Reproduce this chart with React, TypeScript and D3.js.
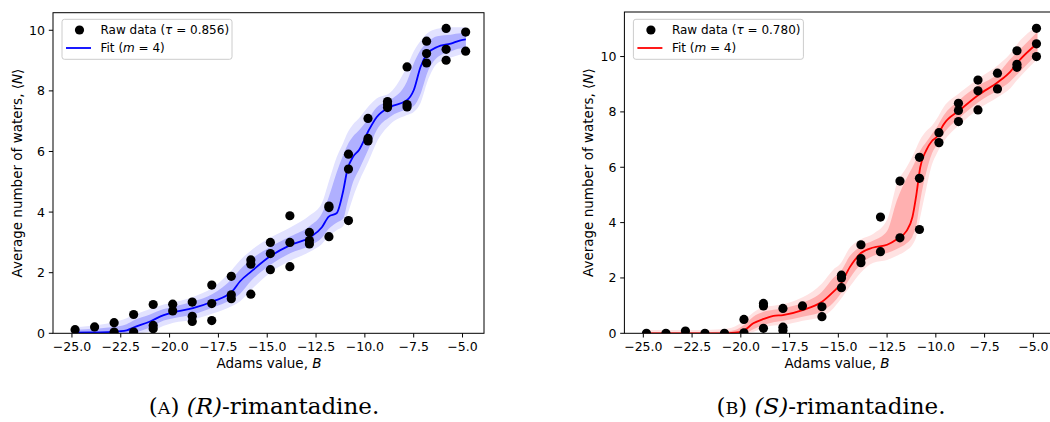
import React from "react";
import * as d3 from "d3";

// ---------- Data: (R)-rimantadine ----------
const rPointsX = [
  -24.84, -23.84, -22.84, -22.84, -21.84, -21.84, -20.84, -20.84, -20.84,
  -19.84, -19.84, -18.84, -18.84, -18.84, -17.84, -17.84, -17.84,
  -16.84, -16.84, -16.84, -15.84, -15.84, -15.84, -14.84, -14.84, -14.84,
  -13.84, -13.84, -13.84, -12.84, -12.84, -12.84, -11.84, -11.84, -11.84,
  -10.84, -10.84, -10.84, -9.84, -9.84, -9.84, -8.84, -8.84, -8.84,
  -7.84, -7.84, -7.84, -6.84, -6.84, -6.84, -5.84, -5.84, -5.84, -4.84, -4.84,
];
const rPointsY = [
  0.12, 0.21, 0.35, 0.04, 0.62, 0.04, 0.95, 0.26, 0.15,
  0.96, 0.74, 1.03, 0.56, 0.39, 1.59, 0.98, 0.42,
  1.88, 1.27, 1.14, 2.42, 2.28, 1.29, 3.0, 2.63, 2.1,
  3.88, 3.0, 2.2, 3.33, 3.06, 2.95, 4.2, 4.15, 3.19,
  5.91, 5.42, 3.72, 7.09, 6.43, 6.35, 7.65, 7.55, 7.45,
  8.79, 7.55, 7.47, 9.64, 9.23, 8.92, 10.06, 9.37, 9.01, 9.94, 9.31,
];
const rFitX = [
  -25, -24, -23, -22.2, -21.85, -21, -20.3, -19.8, -18.8, -17.8, -16.8, -16.4,
  -15.8, -14.85, -13.8, -12.8, -12.2, -11.85, -11.45, -11.1, -10.9, -10.6,
  -10.3, -9.8, -9.4, -8.7, -7.85, -7.5, -7.15, -6.8, -6.3, -5.6, -5.1, -4.83,
];
const rFitY = [
  0.02, 0.03, 0.05, 0.1, 0.19, 0.39, 0.6, 0.69, 0.83, 1.05, 1.38, 1.71,
  2.05, 2.54, 2.92, 3.17, 3.5, 3.85, 3.96, 4.73, 5.39, 5.83,
  6.05, 6.7, 7.13, 7.47, 7.69, 8.02, 8.79, 9.23, 9.45, 9.56, 9.67, 9.7,
];
const rInnerLo = [
  0, 0, 0, 0, 0.02, 0.2, 0.42, 0.5, 0.62, 0.85, 1.12, 1.3,
  1.75, 2.25, 2.65, 2.9, 3.15, 3.45, 3.65, 3.8, 4.3, 5.0,
  5.4, 6.1, 6.7, 7.15, 7.4, 7.5, 7.9, 8.6, 9.1, 9.3, 9.4, 9.4,
];
const rInnerHi = [
  0.12, 0.14, 0.2, 0.3, 0.42, 0.62, 0.8, 0.88, 1.05, 1.3, 1.8, 2.1,
  2.45, 2.85, 3.2, 3.55, 3.95, 4.5, 5.3, 5.9, 6.2, 6.5,
  6.7, 7.1, 7.45, 7.7, 8.3, 8.9, 9.35, 9.6, 9.8, 9.85, 9.9, 9.9,
];
const rOuterLo = [
  0, 0, 0, 0, 0, 0.05, 0.25, 0.35, 0.45, 0.65, 0.9, 1.05,
  1.45, 2.0, 2.4, 2.7, 2.95, 3.2, 3.4, 3.55, 3.9, 4.5,
  5.0, 5.7, 6.3, 6.9, 7.2, 7.3, 7.6, 8.3, 8.9, 9.1, 9.2, 9.25,
];
const rOuterHi = [
  0.2, 0.25, 0.35, 0.5, 0.6, 0.8, 0.95, 1.02, 1.2, 1.5, 2.1, 2.4,
  2.75, 3.15, 3.5, 3.9, 4.3, 5.0, 5.8, 6.3, 6.6, 6.9,
  7.1, 7.5, 7.75, 7.95, 8.8, 9.3, 9.65, 9.9, 10.05, 10.1, 10.1, 10.1,
];

// ---------- Data: (S)-rimantadine ----------
const sPointsX = [
  -24.84, -23.84, -22.84, -21.84, -20.84, -19.84, -19.84,
  -18.84, -18.84, -18.84, -17.84, -17.84, -17.84, -16.84, -15.84, -15.84,
  -14.84, -14.84, -14.84, -13.84, -13.84, -13.84, -12.84, -12.84,
  -11.84, -11.84, -10.84, -10.84, -10.84, -9.84, -9.84,
  -8.84, -8.84, -8.84, -7.84, -7.84, -7.84, -6.84, -6.84,
  -5.84, -5.84, -5.84, -4.84, -4.84, -4.84,
];
const sPointsY = [
  0, 0, 0.08, 0, 0, 0.5, 0.02,
  1.08, 0.99, 0.18, 0.9, 0.22, 0.1, 0.99, 0.96, 0.6,
  2.1, 2.0, 1.65, 3.2, 2.7, 2.55, 4.2, 2.95,
  5.5, 3.45, 6.36, 5.6, 3.75, 7.25, 6.89,
  8.31, 8.05, 7.65, 9.15, 8.76, 8.07, 9.4, 8.83,
  10.21, 9.72, 9.61, 11.02, 10.46, 10.0,
];
const sFitX = [
  -25, -24, -23, -22, -21, -20.3, -19.84, -19.36, -18.83, -18.33, -17.84,
  -16.83, -15.84, -15.26, -14.91, -14.4, -13.84, -13.2, -12.5, -12.0, -11.5,
  -11.2, -11.0, -10.8, -10.5, -10.2, -9.95, -9.62, -8.76, -7.82, -6.79,
  -6.19, -5.77, -4.79,
];
const sFitY = [
  0, 0, 0, 0, 0, 0.02, 0.1, 0.36, 0.52, 0.63, 0.66,
  0.84, 1.14, 1.5, 1.75, 2.4, 2.9, 3.1, 3.2, 3.4, 3.7,
  4.2, 5.0, 6.0, 6.6, 6.95, 7.1, 7.53, 8.07, 8.61, 9.09,
  9.45, 9.82, 10.48,
];
const sInnerLo = [
  0, 0, 0, 0, 0, 0, 0, 0.15, 0.3, 0.4, 0.45,
  0.6, 0.8, 1.1, 1.4, 2.0, 2.5, 2.8, 2.9, 3.05, 3.25,
  3.5, 3.9, 4.8, 5.8, 6.5, 6.8, 7.2, 7.8, 8.35, 8.8,
  9.1, 9.4, 10.1,
];
const sInnerHi = [
  0.05, 0.05, 0.05, 0.05, 0.06, 0.12, 0.3, 0.6, 0.78, 0.85, 0.9,
  1.1, 1.5, 2.0, 2.2, 2.8, 3.15, 3.35, 3.7, 4.8, 5.6,
  6.0, 6.3, 6.6, 6.9, 7.2, 7.45, 7.85, 8.45, 8.95, 9.4,
  9.9, 10.2, 10.9,
];
const sOuterLo = [
  0, 0, 0, 0, 0, 0, 0, 0.05, 0.2, 0.28, 0.3,
  0.45, 0.6, 0.9, 1.2, 1.7, 2.2, 2.55, 2.65, 2.8, 3.0,
  3.2, 3.5, 4.2, 5.2, 6.1, 6.5, 6.9, 7.55, 8.1, 8.55,
  8.85, 9.2, 9.9,
];
const sOuterHi = [
  0.12, 0.12, 0.12, 0.12, 0.15, 0.25, 0.45, 0.75, 0.95, 1.0, 1.05,
  1.3, 1.8, 2.3, 2.5, 3.1, 3.4, 3.6, 4.1, 5.4, 6.0,
  6.4, 6.7, 7.0, 7.3, 7.5, 7.75, 8.15, 8.7, 9.2, 9.7,
  10.1, 10.5, 11.1,
];

const xTicks = [-25, -22.5, -20, -17.5, -15, -12.5, -10, -7.5, -5];
const yTicks = [0, 2, 4, 6, 8, 10];
const xDomain: [number, number] = [-25.97, -3.9];

const SANS = "DejaVu Sans, sans-serif";
const SERIF = "DejaVu Serif, serif";

type PanelProps = {
  x0: number;
  x1: number;
  y0: number;
  y1: number;
  yMax: number;
  px: number[];
  py: number[];
  fx: number[];
  fy: number[];
  inLo: number[];
  inHi: number[];
  outLo: number[];
  outHi: number[];
  lineColor: string;
  innerColor: string;
  outerColor: string;
  tau: string;
  clipId: string;
  xLabelX: number;
  yLabelX: number;
};

function Panel(p: PanelProps) {
  const x = d3.scaleLinear().domain(xDomain).range([p.x0, p.x1]);
  const y = d3.scaleLinear().domain([0, p.yMax]).range([p.y1, p.y0]);
  const idx = p.fx.map((_, i) => i);
  const band = (lo: number[], hi: number[]) =>
    d3
      .area<number>()
      .x((i) => x(p.fx[i]))
      .y0((i) => y(lo[i]))
      .y1((i) => y(hi[i]))
      .curve(d3.curveMonotoneX)(idx) || "";
  const line =
    d3
      .line<number>()
      .x((i) => x(p.fx[i]))
      .y((i) => y(p.fy[i]))
      .curve(d3.curveMonotoneX)(idx) || "";
  const cy = (p.y0 + p.y1) / 2;
  const lx = p.x0 + 9;
  return (
    <g>
      <defs>
        <clipPath id={p.clipId}>
          <rect x={p.x0} y={p.y0} width={p.x1 - p.x0} height={p.y1 - p.y0} />
        </clipPath>
      </defs>
      <g clipPath={`url(#${p.clipId})`}>
        <path d={band(p.outLo, p.outHi)} fill={p.outerColor} />
        <path d={band(p.inLo, p.inHi)} fill={p.innerColor} />
        <path d={line} fill="none" stroke={p.lineColor} strokeWidth={1.8} />
        {p.px.map((v, i) => (
          <circle key={i} cx={x(v)} cy={y(p.py[i])} r={4.6} fill="#000" />
        ))}
      </g>
      {/* spines */}
      <rect
        x={p.x0}
        y={p.y0}
        width={p.x1 - p.x0}
        height={p.y1 - p.y0}
        fill="none"
        stroke="#000"
        strokeWidth={1}
      />
      {/* x ticks */}
      {xTicks.map((t) => (
        <g key={t}>
          <line x1={x(t)} x2={x(t)} y1={p.y1} y2={p.y1 + 4.2} stroke="#000" strokeWidth={1} />
          <text
            x={x(t)}
            y={p.y1 + 17.8}
            textAnchor="middle"
            fontFamily={SANS}
            fontSize={12.5}
            fill="#000"
          >
            {d3.format(".1f")(t).replace("-", "\u2212")}
          </text>
        </g>
      ))}
      {/* y ticks */}
      {yTicks.map((t) => (
        <g key={t}>
          <line x1={p.x0 - 4.2} x2={p.x0} y1={y(t)} y2={y(t)} stroke="#000" strokeWidth={1} />
          <text
            x={p.x0 - 8}
            y={y(t) + 4.5}
            textAnchor="end"
            fontFamily={SANS}
            fontSize={12.5}
            fill="#000"
          >
            {t}
          </text>
        </g>
      ))}
      {/* axis labels */}
      <text x={p.xLabelX} y={p.y1 + 34.5} textAnchor="middle" fontFamily={SANS} fontSize={13.5} fill="#000">
        Adams value, <tspan fontStyle="italic">B</tspan>
      </text>
      <text
        transform={`translate(${p.yLabelX},${cy}) rotate(-90)`}
        textAnchor="middle"
        fontFamily={SANS}
        fontSize={13.5}
        fill="#000"
      >
        Average number of waters, {"\u27E8"}
        <tspan fontStyle="italic">N</tspan>
        {"\u27E9"}
      </text>
      {/* legend */}
      <rect
        x={lx}
        y={19.3}
        width={170}
        height={40}
        rx={2.5}
        fill="#fff"
        fillOpacity={0.8}
        stroke="#cccccc"
        strokeWidth={1}
      />
      <circle cx={lx + 17.5} cy={30} r={4.6} fill="#000" />
      <line x1={lx + 4} x2={lx + 29} y1={48} y2={48} stroke={p.lineColor} strokeWidth={1.8} />
      <text x={lx + 38.5} y={34.3} fontFamily={SANS} fontSize={12} fill="#000">
        Raw data (<tspan fontStyle="italic">τ</tspan> = {p.tau})
      </text>
      <text x={lx + 38.5} y={52.3} fontFamily={SANS} fontSize={12} fill="#000">
        Fit (<tspan fontStyle="italic">m</tspan> = 4)
      </text>
    </g>
  );
}

export default function App() {
  return (
    <div style={{ position: "absolute", left: 0, top: 0, width: 1050, height: 422 }}>
      <svg width={1050} height={422} style={{ display: "block", background: "#fff" }}>
        <rect x={0} y={0} width={1050} height={422} fill="#fff" />
        <Panel
          x0={53}
          x1={484}
          y0={12.7}
          y1={333.3}
          yMax={10.58}
          px={rPointsX}
          py={rPointsY}
          fx={rFitX}
          fy={rFitY}
          inLo={rInnerLo}
          inHi={rInnerHi}
          outLo={rOuterLo}
          outHi={rOuterHi}
          lineColor="#0000ff"
          innerColor="#b0b0ff"
          outerColor="#e2e2ff"
          tau="0.856"
          clipId="clipR"
          xLabelX={269}
          yLabelX={22}
        />
        <Panel
          x0={624.4}
          x1={1054.8}
          y0={12}
          y1={333.3}
          yMax={11.61}
          px={sPointsX}
          py={sPointsY}
          fx={sFitX}
          fy={sFitY}
          inLo={sInnerLo}
          inHi={sInnerHi}
          outLo={sOuterLo}
          outHi={sOuterHi}
          lineColor="#ff0000"
          innerColor="#ffb0b0"
          outerColor="#ffe2e2"
          tau="0.780"
          clipId="clipS"
          xLabelX={837}
          yLabelX={593}
        />
        <text x={264} y={414} textAnchor="middle" fontFamily={SERIF} fontSize={23} fill="#000">
          (<tspan fontSize={17.5}>A</tspan>) <tspan fontStyle="italic">(R)</tspan>-rimantadine.
        </text>
        <text x={831} y={414} textAnchor="middle" fontFamily={SERIF} fontSize={23} fill="#000">
          (<tspan fontSize={17.5}>B</tspan>) <tspan fontStyle="italic">(S)</tspan>-rimantadine.
        </text>
      </svg>
    </div>
  );
}
